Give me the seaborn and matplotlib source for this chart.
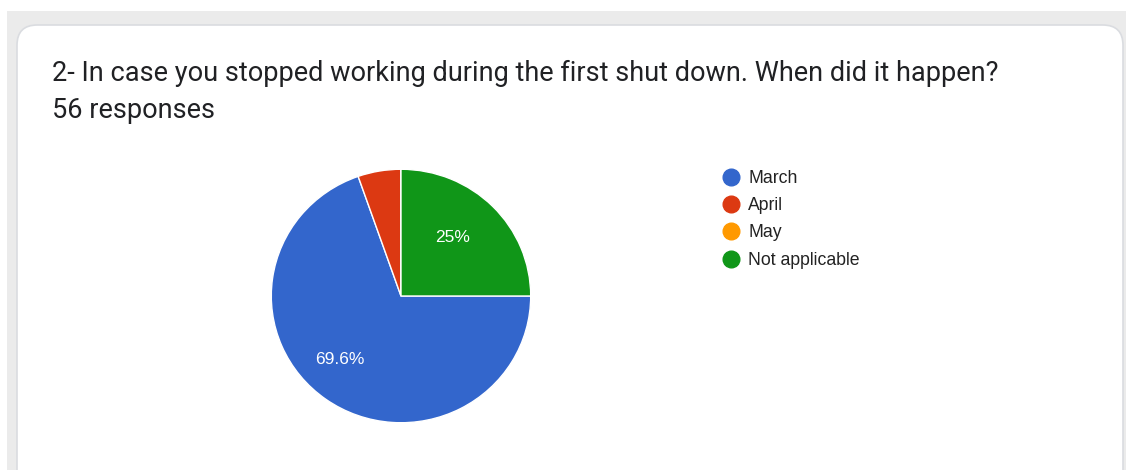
import matplotlib
matplotlib.use("Agg")
import matplotlib.pyplot as plt
from matplotlib.patches import FancyBboxPatch, Rectangle
from matplotlib.lines import Line2D
import seaborn as sns

# Survey answers
categories = ["March", "April", "May", "Not applicable"]
counts = [39, 3, 0, 14]
colors = ["#3366cc", "#dc3912", "#ff9900", "#109618"]
title = "2- In case you stopped working during the first shut down. When did it happen?"
subtitle = "56 responses"

sns.set_theme(style="white")
plt.rcParams["font.family"] = ["Liberation Sans", "DejaVu Sans"]

W, H = 1126, 470
fig = plt.figure(figsize=(W / 100, H / 100), dpi=100)
fig.patch.set_facecolor("white")

# page background and card
fig.patches.append(Rectangle((7 / W, 0), 1 - 7 / W, 1 - 11 / H, transform=fig.transFigure,
                             facecolor="#ebebeb", edgecolor="none", zorder=0))
fig.patches.append(FancyBboxPatch((17 / W, -0.05), (1123 - 17) / W, (470 - 25) / H + 0.05,
                                  boxstyle="round,pad=0,rounding_size=0.018",
                                  mutation_aspect=W / H,
                                  transform=fig.transFigure, facecolor="white",
                                  edgecolor="#dadce0", linewidth=1.2, zorder=1))

fig.text(52 / W, 1 - 73 / H, title, fontsize=19.5, family=["Roboto", "DejaVu Sans"],
         color="#202124", va="center", ha="left", zorder=3)
fig.text(52 / W, 1 - 110 / H, subtitle, fontsize=19.5, family=["Roboto", "DejaVu Sans"],
         color="#202124", va="center", ha="left", zorder=3)

# pie axes: centre (401, 296), radii 131 x 128 px
cx, cy, rx, ry = 401, 296, 131, 128
ax = fig.add_axes([(cx - rx) / W, (H - cy - ry) / H, 2 * rx / W, 2 * ry / H])
ax.set_zorder(2)
ax.patch.set_alpha(0)


def fmt(p):
    if p < 10:
        return ""
    s = f"{p:.1f}"
    return (s.rstrip("0").rstrip(".") if s.endswith(".0") else s) + "%"


wedges, texts, autotexts = ax.pie(counts, colors=sns.color_palette(colors), startangle=0,
                                  counterclock=False, autopct=fmt, pctdistance=0.68,
                                  radius=1, wedgeprops=dict(edgecolor="white", linewidth=1),
                                  textprops=dict(color="white", fontsize=12.5))
label_pos = {0: (-0.47, -0.50), 3: (0.40, 0.46)}
for i, t in enumerate(autotexts):
    if i in label_pos:
        t.set_position(label_pos[i])
ax.set_xlim(-1.01, 1.01)
ax.set_ylim(-1.01, 1.01)
ax.set_aspect("auto")
ax.axis("off")

handles = [Line2D([], [], marker="o", linestyle="none", markersize=12,
                  markerfacecolor=c, markeredgecolor=c) for c in colors]
leg = fig.legend(handles, categories, loc="upper left",
                 bbox_to_anchor=(722 / W, 1 - 170 / H), frameon=False,
                 fontsize=12.7, handletextpad=0.5, labelspacing=0.58,
                 handlelength=1.0, borderaxespad=0, borderpad=0)
for t in leg.get_texts():
    t.set_color("#222222")
leg.set_zorder(3)

fig.savefig("out.png", dpi=100, facecolor=fig.get_facecolor())
